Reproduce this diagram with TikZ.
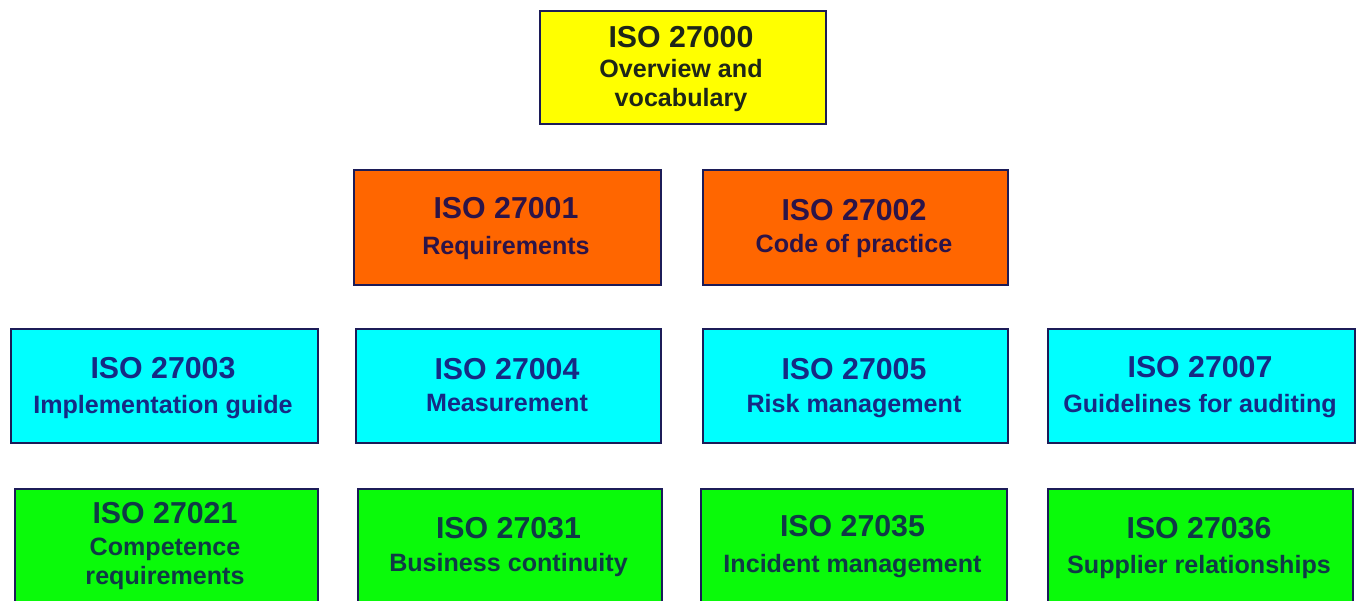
\documentclass[tikz,border=0pt]{standalone}
\usepackage{fontspec}
\setmainfont{Liberation Sans}
\definecolor{bordercol}{RGB}{28,28,88}
\definecolor{fyellow}{RGB}{255,255,0}
\definecolor{forange}{RGB}{255,102,0}
\definecolor{fcyan}{RGB}{0,255,255}
\definecolor{fgreen}{RGB}{10,250,10}
\definecolor{tyellow}{RGB}{30,38,24}
\definecolor{torange}{RGB}{44,20,72}
\definecolor{tcyan}{RGB}{22,42,132}
\definecolor{tgreen}{RGB}{16,58,70}
\tikzset{
  isobox/.style={draw=bordercol, line width=2.9pt, inner sep=0pt, anchor=north west},
  ttl/.style={font=\bfseries\fontsize{30.3}{31}\selectfont, anchor=base, inner sep=0pt},
  subt/.style={font=\bfseries\fontsize{25.1}{26}\selectfont, anchor=base, inner sep=0pt},
}
\begin{document}
\begin{tikzpicture}[x=1pt,y=1pt]
\clip (0,0) rectangle (1357,-600);
\fill[white] (0,0) rectangle (1357,-600);
% row 1
\node[isobox, fill=fyellow, minimum width=286, minimum height=113] (b0) at (538.5,-9.5) {};
\node[ttl, text=tyellow] (t0) at (681,-47) {ISO 27000};
\node[subt, text=tyellow] (s0a) at (681,-77) {Overview and};
\node[subt, text=tyellow] (s0b) at (681,-106) {vocabulary};
% row 2
\node[isobox, fill=forange, minimum width=307, minimum height=115] (b1) at (352.5,-168.5) {};
\node[ttl, text=torange] (t1) at (506,-218) {ISO 27001};
\node[subt, text=torange] (s1) at (506,-254) {Requirements};
\node[isobox, fill=forange, minimum width=305, minimum height=115] (b2) at (701.5,-168.5) {};
\node[ttl, text=torange] (t2) at (854,-220) {ISO 27002};
\node[subt, text=torange] (s2) at (854,-252) {Code of practice};
% row 3
\node[isobox, fill=fcyan, minimum width=307, minimum height=114] (b3) at (9.5,-327.5) {};
\node[ttl, text=tcyan] (t3) at (163,-378) {ISO 27003};
\node[subt, text=tcyan] (s3) at (163,-413) {Implementation guide};
\node[isobox, fill=fcyan, minimum width=305, minimum height=114] (b4) at (354.5,-327.5) {};
\node[ttl, text=tcyan] (t4) at (507,-379) {ISO 27004};
\node[subt, text=tcyan] (s4) at (507,-411) {Measurement};
\node[isobox, fill=fcyan, minimum width=305, minimum height=114] (b5) at (701.5,-327.5) {};
\node[ttl, text=tcyan] (t5) at (854,-379) {ISO 27005};
\node[subt, text=tcyan] (s5) at (854,-412) {Risk management};
\node[isobox, fill=fcyan, minimum width=307, minimum height=114] (b6) at (1046.5,-327.5) {};
\node[ttl, text=tcyan] (t6) at (1200,-377) {ISO 27007};
\node[subt, text=tcyan] (s6) at (1200,-412) {Guidelines for auditing};
% row 4
\node[isobox, fill=fgreen, minimum width=303, minimum height=125] (b7) at (13.5,-487.5) {};
\node[ttl, text=tgreen] (t7) at (165,-523) {ISO 27021};
\node[subt, text=tgreen] (s7a) at (165,-555) {Competence};
\node[subt, text=tgreen] (s7b) at (165,-584) {requirements};
\node[isobox, fill=fgreen, minimum width=304, minimum height=125] (b8) at (356.5,-487.5) {};
\node[ttl, text=tgreen] (t8) at (508.5,-538) {ISO 27031};
\node[subt, text=tgreen] (s8) at (508.5,-571) {Business continuity};
\node[isobox, fill=fgreen, minimum width=306, minimum height=125] (b9) at (699.5,-487.5) {};
\node[ttl, text=tgreen] (t9) at (852.5,-536) {ISO 27035};
\node[subt, text=tgreen] (s9) at (852.5,-572) {Incident management};
\node[isobox, fill=fgreen, minimum width=305, minimum height=125] (b10) at (1046.5,-487.5) {};
\node[ttl, text=tgreen] (t10) at (1199,-538) {ISO 27036};
\node[subt, text=tgreen] (s10) at (1199,-573) {Supplier relationships};
\end{tikzpicture}
\end{document}
